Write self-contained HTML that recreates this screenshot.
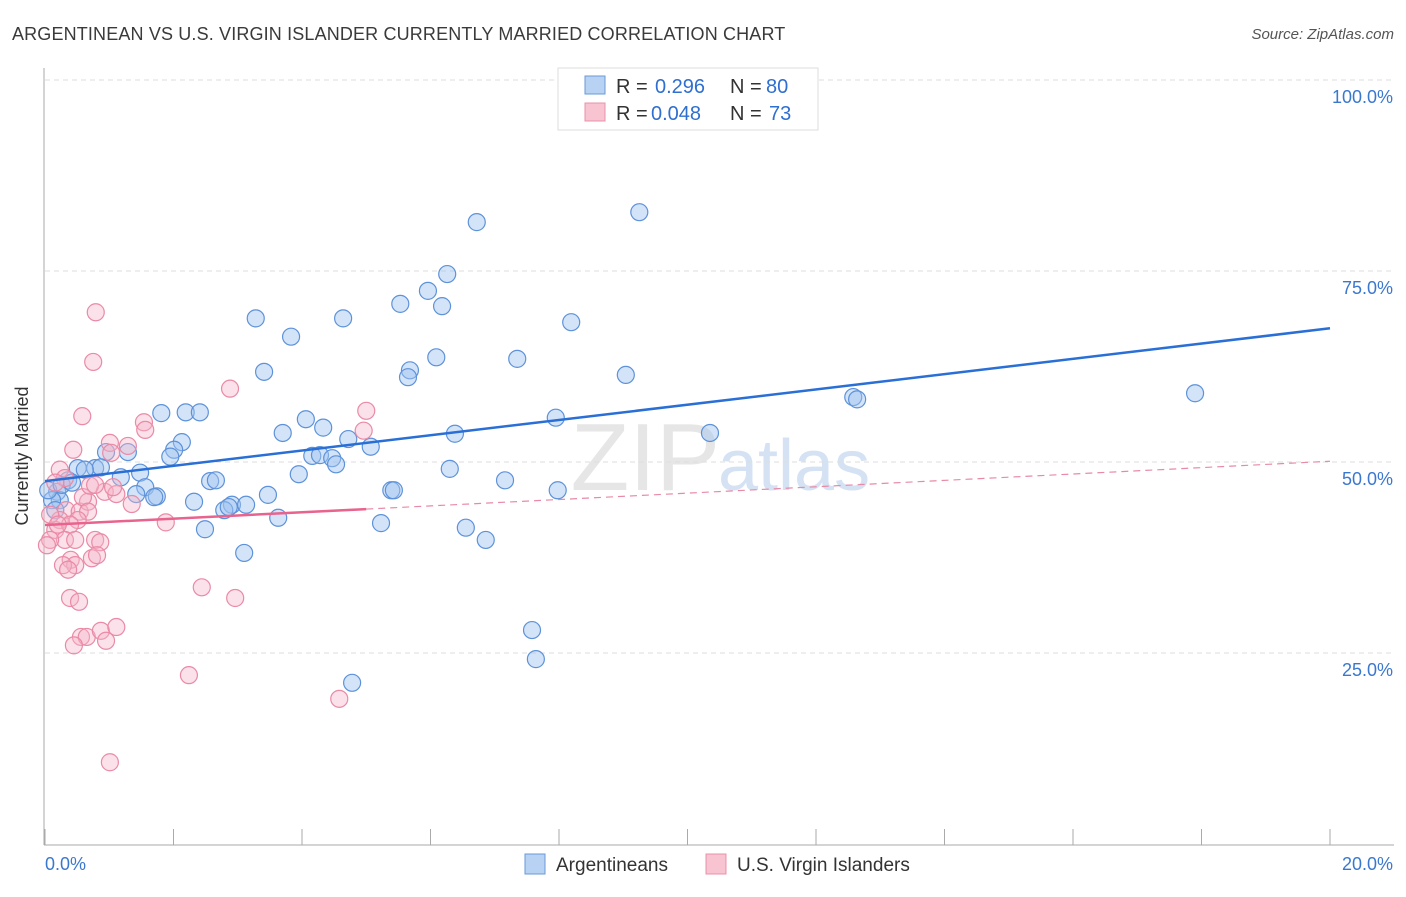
<!DOCTYPE html>
<html><head><meta charset="utf-8"><style>
body{margin:0;background:#fff;font-family:"Liberation Sans",sans-serif}
svg text{font-family:"Liberation Sans",sans-serif}
</style></head><body>
<svg id="chart" width="1406" height="892" xmlns="http://www.w3.org/2000/svg">
<text x="12" y="40" font-size="18" fill="#3a3a3a" letter-spacing="0.15">ARGENTINEAN VS U.S. VIRGIN ISLANDER CURRENTLY MARRIED CORRELATION CHART</text>
<text x="1394" y="39" font-size="15" fill="#555" font-style="italic" text-anchor="end">Source: ZipAtlas.com</text>
<text x="720" y="490" font-size="96" fill="#e6e6e6" text-anchor="end" font-family="Liberation Serif">ZIP</text>
<text x="718" y="490" font-size="72" fill="#d4e2f4">atlas</text>
<g id="grid"></g>
<g id="axes"></g>
<g id="pts"></g>
<g id="trend"></g>
<text x="28" y="456" font-size="18" fill="#333" text-anchor="middle" transform="rotate(-90 28 456)">Currently Married</text>
<g>
<rect x="558" y="68" width="260" height="62" fill="#fff" stroke="#ddd"/>
<rect x="585" y="76" width="20" height="18" fill="#b8d2f4" stroke="#6a9ad8"/>
<rect x="585" y="103" width="20" height="18" fill="#f8c4d2" stroke="#e890a8"/>
<text x="616" y="93" font-size="20" fill="#333">R =</text>
<text x="655" y="93" font-size="20" fill="#2f6fd0">0.296</text>
<text x="730" y="93" font-size="20" fill="#333">N =</text>
<text x="766" y="93" font-size="20" fill="#2f6fd0">80</text>
<text x="616" y="120" font-size="20" fill="#333">R =</text>
<text x="651" y="120" font-size="20" fill="#2f6fd0">0.048</text>
<text x="730" y="120" font-size="20" fill="#333">N =</text>
<text x="769" y="120" font-size="20" fill="#2f6fd0">73</text>
</g>
<g>
<rect x="525" y="854" width="20" height="20" fill="#b8d2f4" stroke="#6a9ad8"/>
<text x="556" y="871" font-size="19" fill="#333">Argentineans</text>
<rect x="706" y="854" width="20" height="20" fill="#f8c4d2" stroke="#e890a8"/>
<text x="737" y="871" font-size="19" fill="#333">U.S. Virgin Islanders</text>
</g>
</svg>
<script>
const blueX=[6.72,9.25,6.26,5.96,5.53,6.18,3.28,4.64,8.19,3.83,6.09,7.35,3.41,5.68,5.65,9.04,17.90,12.58,12.64,1.81,2.19,2.41,4.06,7.95,4.33,3.70,6.38,10.35,4.72,2.13,1.29,0.95,2.01,1.95,5.07,4.16,4.28,4.47,4.53,6.30,3.95,0.51,0.78,0.87,1.48,1.18,0.36,7.16,2.57,2.66,1.56,1.42,1.74,1.70,3.47,5.39,5.43,7.98,2.32,2.91,3.13,2.79,2.86,3.63,2.49,5.23,6.55,6.86,3.10,7.58,7.64,4.78,0.19,0.23,0.11,0.05,0.26,0.42,0.16,0.62];
const blueY=[81.4,82.7,74.6,72.4,70.7,70.4,68.8,68.8,68.3,66.4,63.7,63.5,61.8,62.0,61.1,61.4,59.0,58.5,58.2,56.4,56.5,56.5,55.6,55.8,54.5,53.8,53.7,53.8,53.0,52.6,51.3,51.3,51.6,50.7,52.0,50.8,50.9,50.5,49.7,49.1,48.4,49.2,49.2,49.3,48.6,48.0,47.6,47.6,47.5,47.6,46.7,45.8,45.5,45.4,45.7,46.3,46.3,46.3,44.8,44.4,44.4,43.7,44.1,42.7,41.2,42.0,41.4,39.8,38.1,28.0,24.2,21.1,46.1,45.0,45.0,46.3,47.0,47.3,43.7,49.0];
const pinkX=[0.79,0.75,2.88,0.58,1.54,1.56,5.0,4.96,0.44,1.01,1.29,1.03,0.93,1.11,1.06,0.33,0.54,0.67,0.59,0.70,0.67,0.23,0.51,0.16,0.39,0.31,0.08,0.03,0.47,0.78,0.86,0.73,0.81,0.40,0.47,0.28,0.36,1.35,1.88,2.96,2.44,0.39,0.53,0.56,0.65,0.45,0.87,1.11,0.95,2.24,4.58,1.01,0.23,0.31,0.16,0.78,0.08,0.20];
const pinkY=[69.6,63.1,59.6,56.0,55.2,54.2,56.7,54.1,51.6,52.5,52.1,51.2,46.1,45.8,46.7,43.7,43.5,44.8,45.4,46.9,43.5,42.4,42.4,41.1,41.8,39.8,39.8,39.1,39.8,39.8,39.5,37.4,37.8,37.2,36.5,36.5,35.9,44.5,42.1,32.2,33.6,32.2,31.7,27.1,27.1,26.0,27.9,28.4,26.6,22.1,19.0,10.7,49.0,47.9,47.3,47.0,43.1,41.8];
const yTicks=[25,50,75,100];
const yTickLabels=["25.0%","50.0%","75.0%","100.0%"];
const xTicks=[0,2,4,6,8,10,12,14,16,18,20];
const blueTrend=[47.5,67.5];
const pinkTrend=[41.75,50.1];
const pinkSolidEnd=5;
const NS="http://www.w3.org/2000/svg";
const X=v=>45+v*64.25, Y=v=>844-v*7.64;
function mk(t,a,p){const e=document.createElementNS(NS,t);for(const k in a)e.setAttribute(k,a[k]);document.getElementById(p).appendChild(e);return e;}
yTicks.forEach((t,i)=>{
 const g=mk('line',{x1:45,x2:1394,y1:Y(t),y2:Y(t),stroke:'#ddd','stroke-dasharray':'5,4'},'grid');
 
 
 const l=mk('text',{x:1393,y:Y(t)+23,'font-size':18,fill:'#3a78d0','text-anchor':'end'},'axes');
 l.textContent=yTickLabels[i];
 
 
});
const ya=mk('line',{x1:44,x2:44,y1:68,y2:845,stroke:'#aaa'},'axes');


const xa=mk('line',{x1:44,x2:1394,y1:845,y2:845,stroke:'#aaa'},'axes');


xTicks.forEach(t=>{
 const k=mk('line',{x1:X(t),x2:X(t),y1:829,y2:845,stroke:'#aaa'},'axes');
 
 
});
const x0=mk('text',{x:45,y:870,'font-size':18,fill:'#3a78d0'},'axes');x0.textContent='0.0%';


const x1=mk('text',{x:1393,y:870,'font-size':18,fill:'#3a78d0','text-anchor':'end'},'axes');x1.textContent='20.0%';


blueX.forEach((v,i)=>{
 const c=mk('circle',{cx:X(v),cy:Y(blueY[i]),r:8.5,fill:'rgba(160,196,240,0.45)',stroke:'#5d92da','stroke-width':1.2},'pts');
 
 
});
pinkX.forEach((v,i)=>{
 const c=mk('circle',{cx:X(v),cy:Y(pinkY[i]),r:8.5,fill:'rgba(246,180,200,0.4)',stroke:'#ea8aa6','stroke-width':1.2},'pts');
 
 
});
const bt=mk('line',{x1:X(0),y1:Y(blueTrend[0]),x2:X(20),y2:Y(blueTrend[1]),stroke:'#2a6fd6','stroke-width':2.5},'trend');


const pm=pinkTrend[0]+(pinkTrend[1]-pinkTrend[0])*pinkSolidEnd/20;
const pd=mk('line',{x1:X(pinkSolidEnd),y1:Y(pm),x2:X(20),y2:Y(pinkTrend[1]),stroke:'#e88aa6','stroke-width':1.2,'stroke-dasharray':'7,5'},'trend');


const ps=mk('line',{x1:X(0),y1:Y(pinkTrend[0]),x2:X(pinkSolidEnd),y2:Y(pm),stroke:'#e8638d','stroke-width':2.5},'trend');


</script>
</body></html>
